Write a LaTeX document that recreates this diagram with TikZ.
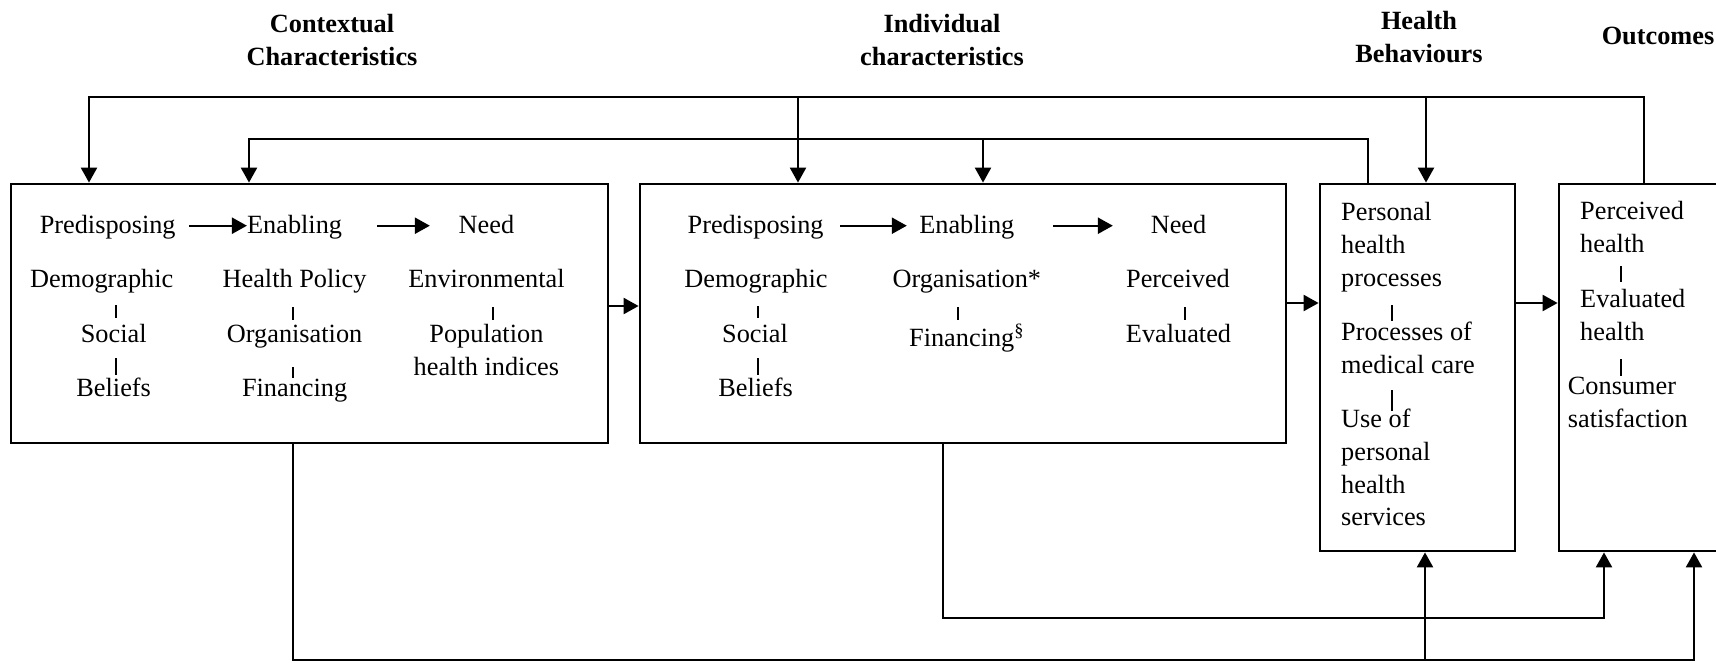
\documentclass[tikz,border=0pt]{standalone}
\usepackage{fontspec}
\setmainfont{Liberation Serif}
\usetikzlibrary{arrows.meta}
\begin{document}
\begin{tikzpicture}[x=1pt,y=-1pt,
  box/.style={draw, line width=2.8pt, rectangle, inner sep=0pt},
  link/.style={draw, line width=2.3pt},
  arrow/.style={link, -{Triangle[length=15pt,width=16pt]}},
  tick/.style={draw, line width=2pt},
  txt/.style={anchor=base, inner sep=0pt, font=\fontsize{26.3}{33}\selectfont},
  ltxt/.style={txt, anchor=base west},
  head/.style={txt, font=\fontsize{26.3}{33}\selectfont\bfseries}]
\useasboundingbox (0,0) rectangle (1716,662);
\clip (0,0) rectangle (1716,662);

% column headings
\node[head] (h1a) at (332,32) {Contextual};
\node[head] (h1b) at (332,65) {Characteristics};
\node[head] (h2a) at (942,32) {Individual};
\node[head] (h2b) at (942,65) {characteristics};
\node[head] (h3a) at (1419,29.5) {Health};
\node[head] (h3b) at (1419,62.5) {Behaviours};
\node[head] (h4) at (1658,44) {Outcomes};

% the four boxes
\node[box, minimum width=597pt, minimum height=259pt] (box1) at (309.5,313.5) {};
\node[box, minimum width=646pt, minimum height=259pt] (box2) at (963,313.5) {};
\node[box, minimum width=195pt, minimum height=367pt] (box3) at (1417.5,367.5) {};
\node[box, minimum width=201pt, minimum height=367pt] (box4) at (1659.5,367.5) {};

% contextual characteristics
\node[txt] (pre1) at (107.7,233) {Predisposing};
\node[txt] (en1) at (294.6,233) {Enabling};
\node[txt] (need1) at (486.4,233) {Need};
\node[txt] (dem1) at (101.8,287) {Demographic};
\node[txt] (soc1) at (113.7,342) {Social};
\node[txt] (bel1) at (113.7,396) {Beliefs};
\node[txt] (hp1) at (294.6,287) {Health Policy};
\node[txt] (org1) at (294.6,342) {Organisation};
\node[txt] (fin1) at (294.6,396) {Financing};
\node[txt] (env1) at (486.5,287) {Environmental};
\node[txt] (pop1) at (486.4,342) {Population};
\node[txt] (pop1b) at (486.4,375) {health indices};
\draw[arrow, shorten <=13pt] ([yshift=5pt]pre1.mid east) -- ([yshift=5pt]en1.mid west);
\draw[arrow, shorten <=35pt, shorten >=28.6pt] ([yshift=5pt]en1.mid east) -- ([yshift=5pt]need1.mid west);
\draw[tick] (116,305) -- (116,318);
\draw[tick] (116,358) -- (116,375);
\draw[tick] (293,307) -- (293,320);
\draw[tick] (293,367) -- (293,378);
\draw[tick] (493,307) -- (493,320);

% individual characteristics
\node[txt] (pre2) at (755.6,233) {Predisposing};
\node[txt] (en2) at (966.8,233) {Enabling};
\node[txt] (need2) at (1178.5,233) {Need};
\node[txt] (dem2) at (755.9,287) {Demographic};
\node[txt] (soc2) at (755,342) {Social};
\node[txt] (bel2) at (755.6,396) {Beliefs};
\node[txt] (org2) at (966.8,287) {Organisation*};
\node[txt] (fin2) at (966.6,346) {Financing\textsuperscript{\S}};
\node[txt] (per2) at (1178,287) {Perceived};
\node[txt] (eva2) at (1178.5,342) {Evaluated};
\draw[arrow, shorten <=16.4pt, shorten >=12.3pt] ([yshift=5pt]pre2.mid east) -- ([yshift=5pt]en2.mid west);
\draw[arrow, shorten <=38.7pt, shorten >=37.7pt] ([yshift=5pt]en2.mid east) -- ([yshift=5pt]need2.mid west);
\draw[tick] (758,306) -- (758,318);
\draw[tick] (758,358) -- (758,375);
\draw[tick] (958,307) -- (958,320);
\draw[tick] (1184.5,307) -- (1184.5,320);

% health behaviours
\node[ltxt] (b3a) at (1341,220) {Personal};
\node[ltxt] (b3b) at (1341,253) {health};
\node[ltxt] (b3c) at (1341,286) {processes};
\node[ltxt] (b3d) at (1341,340) {Processes of};
\node[ltxt] (b3e) at (1341,373.5) {medical care};
\node[ltxt] (b3f) at (1341,427.5) {Use of};
\node[ltxt] (b3g) at (1341,460) {personal};
\node[ltxt] (b3h) at (1341,493) {health};
\node[ltxt] (b3i) at (1341,525.5) {services};
\draw[tick] (1392,305) -- (1392,321);
\draw[tick] (1392,390) -- (1392,411);

% outcomes
\node[ltxt] (b4a) at (1580,219.5) {Perceived};
\node[ltxt] (b4b) at (1580,252.5) {health};
\node[ltxt] (b4c) at (1580,307) {Evaluated};
\node[ltxt] (b4d) at (1580,340) {health};
\node[ltxt] (b4e) at (1567.7,394.7) {Consumer};
\node[ltxt] (b4f) at (1567.7,427.6) {satisfaction};
\draw[tick] (1621,266) -- (1621,282);
\draw[tick] (1621,359) -- (1621,376);

% forward arrows between the boxes
\coordinate (m1) at (0,306);
\coordinate (m2) at (0,303);
\draw[arrow] (box1.east |- m1) -- (box2.west |- m1);
\draw[arrow] (box2.east |- m2) -- (box3.west |- m2);
\draw[arrow] (box3.east |- m2) -- (box4.west |- m2);

% feedback from outcomes (upper rail)
\coordinate (ua) at (1644,97);
\coordinate (ub) at (89,97);
\coordinate (uc) at (798,97);
\coordinate (ud) at (1426,97);
\draw[arrow] (ua |- box4.north) -- (ua) -- (ub) -- (ub |- box1.north);
\draw[arrow] (uc) -- (uc |- box2.north);
\draw[arrow] (ud) -- (ud |- box3.north);

% feedback from health behaviours (second rail)
\coordinate (va) at (1368,139);
\coordinate (vb) at (249,139);
\coordinate (vc) at (983,139);
\draw[arrow] (va |- box3.north) -- (va) -- (vb) -- (vb |- box1.north);
\draw[arrow] (vc) -- (vc |- box2.north);

% lower rails
\coordinate (wa) at (943,618);
\coordinate (wb) at (1604,618);
\draw[arrow] (wa |- box2.south) -- (wa) -- (wb) -- (wb |- box4.south);
\coordinate (xa) at (293,660);
\coordinate (xb) at (1694,660);
\coordinate (xc) at (1425,660);
\draw[arrow] (xa |- box1.south) -- (xa) -- (xb) -- (xb |- box4.south);
\draw[arrow] (xc) -- (xc |- box3.south);
\end{tikzpicture}
\end{document}
